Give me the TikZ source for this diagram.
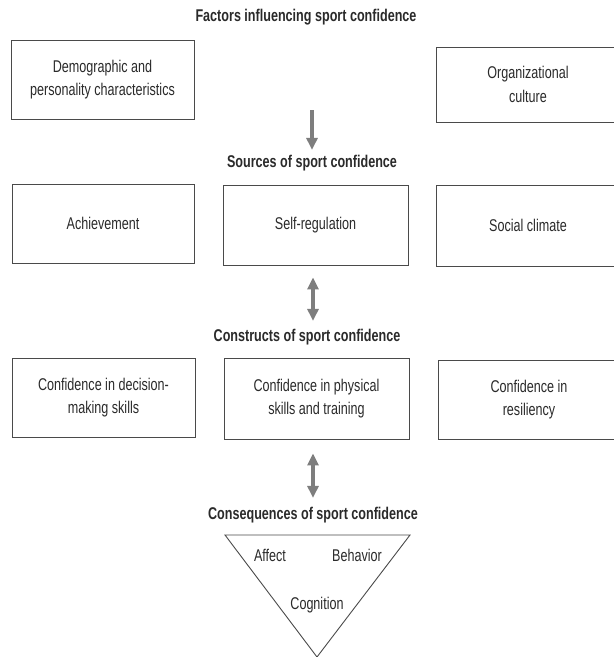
\documentclass[tikz,border=0pt]{standalone}
\usepackage{fontspec}
\setmainfont{Liberation Sans}[FakeStretch=0.74]
\usetikzlibrary{arrows.meta}
\definecolor{inkc}{HTML}{2A2A2A}
\definecolor{linec}{HTML}{4A4A4A}
\definecolor{arrc}{HTML}{7E7E7E}
\tikzset{
  box/.style={draw=linec, line width=0.9pt, minimum height=79pt, minimum width=183pt,
    align=center, text=inkc, font=\fontsize{17}{23.5}\selectfont, inner sep=0pt},
  heading/.style={text=inkc, font=\fontsize{17}{20}\selectfont\bfseries, inner sep=0pt},
  label/.style={text=inkc, font=\fontsize{17}{20}\selectfont, inner sep=0pt},
  grayarrow/.style={draw=arrc, line width=3.5pt, -{Triangle[width=11pt,length=12pt]}},
  grayarrows/.style={draw=arrc, line width=3.5pt, {Triangle[width=11pt,length=12pt]}-{Triangle[width=11pt,length=12pt]}},
  tri/.style={draw=linec, line width=0.9pt, line join=miter}
}
\begin{document}
\begin{tikzpicture}[x=1pt,y=-1pt]
\useasboundingbox (0,0) rectangle (614,657);
% headings
\node[heading] (factors) at (306,17) {Factors influencing sport confidence};
\node[heading] (sources) at (312,163) {Sources of sport confidence};
\node[heading] (constructs) at (307,337) {Constructs of sport confidence};
\node[heading] (consequences) at (313,515) {Consequences of sport confidence};
% row 1
\node[box] (demo) at (102.5,79.5) {Demographic and\\personality characteristics};
\node[box, minimum height=75pt, minimum width=184pt] (org) at (528,84.5) {Organizational\\culture};
% row 2
\node[box, minimum width=182pt] (achv) at (103,223.5) {Achievement};
\node[box, minimum width=185pt, minimum height=80pt] (selfreg) at (315.5,225) {Self-regulation};
\node[box, minimum width=184pt, minimum height=81pt] (social) at (528,225.5) {Social climate};
% row 3
\node[box] (decision) at (103.5,397.5) {Confidence in decision-\\making skills};
\node[box, minimum width=185pt, minimum height=81pt] (physical) at (316.5,398.5) {Confidence in physical\\skills and training};
\node[box, minimum width=182pt] (resil) at (529,399.5) {Confidence in\\resiliency};
% triangle
\coordinate (tl) at (225,535);
\coordinate (tr) at (410,535);
\coordinate (tb) at (317,657);
\draw[tri] (tl) -- (tr) -- (tb) -- cycle;
\node[label] (affect) at (270,555) {Affect};
\node[label] (behavior) at (357,555) {Behavior};
\node[label] (cognition) at (317,605) {Cognition};
% arrows
\coordinate (a1s) at (312,110);
\draw[grayarrow, shorten >=5pt] (a1s) -- (sources.north -| a1s);
\draw[grayarrows, shorten <=12pt, shorten >=8pt] (selfreg.south -| 313,0) -- (constructs.north -| 313,0);
\draw[grayarrows, shorten <=14pt, shorten >=9pt] (physical.south -| 313,0) -- (consequences.north -| 313,0);
\end{tikzpicture}
\end{document}
